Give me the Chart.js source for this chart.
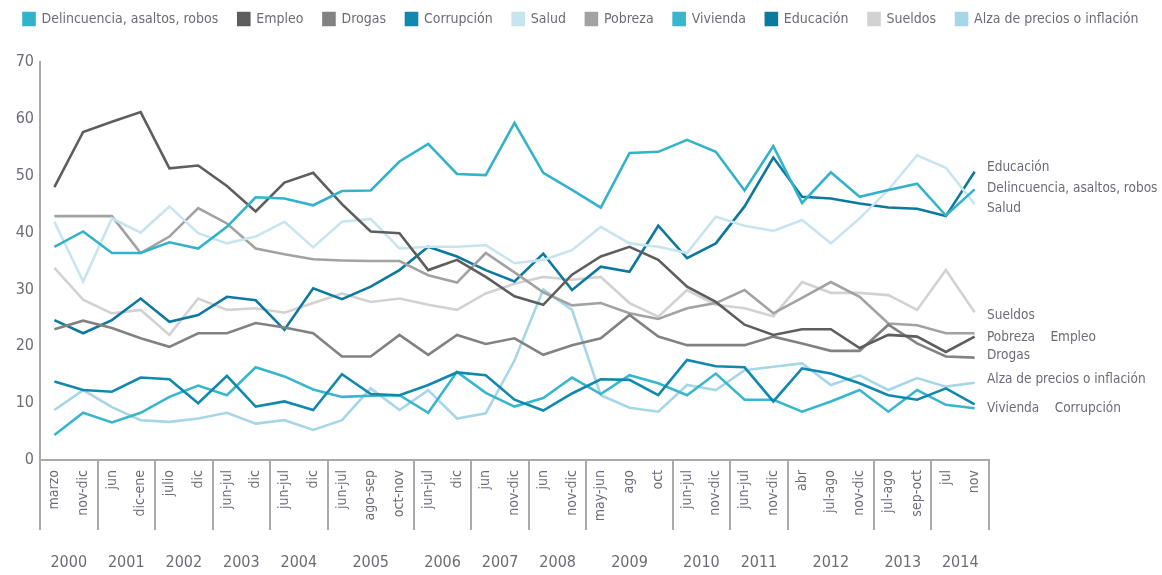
<!DOCTYPE html>
<html>
<head>
<meta charset="utf-8">
<script src="https://cdn.jsdelivr.net/npm/chart.js@4.4.1/dist/chart.umd.min.js"></script>
<style>
  html, body { margin: 0; padding: 0; background: #fff; }
  #wrap { width: 1162px; height: 575px; }
</style>
</head>
<body>
<div id="wrap"><canvas id="lineChart"></canvas></div>
<script>
// Periods (x categories), grouped by year
const periods = ['marzo', 'nov-dic', 'jun', 'dic-ene', 'julio', 'dic', 'jun-jul', 'dic', 'jun-jul', 'dic',
    'jun-jul', 'ago-sep', 'oct-nov', 'jun-jul', 'dic', 'jun', 'nov-dic', 'jun', 'nov-dic',
    'may-jun', 'ago', 'oct', 'jun-jul', 'nov-dic', 'jun-jul', 'nov-dic', 'abr', 'jul-ago', 'nov-dic',
    'jul-ago', 'sep-oct', 'jul', 'nov'];
const years = ['2000', '2001', '2002', '2003', '2004', '2005', '2006', '2007', '2008', '2009', '2010', '2011', '2012', '2013', '2014'];
const yearCounts = [2, 2, 2, 2, 2, 3, 2, 2, 2, 3, 2, 2, 3, 2, 2];
const yTicks = [0, 10, 20, 30, 40, 50, 60, 70];

// Series values (%)
const delincuencia = [37.5, 40.2, 36.4, 36.4, 38.3, 37.2, 41, 46.2, 46, 44.8, 47.3, 47.4, 52.5, 55.6, 50.3, 50.1, 59.3,
    50.5, 47.5, 44.4, 54, 54.2, 56.3, 54.2, 47.4, 55.2, 45.2, 50.6, 46.3, 47.5, 48.6, 43, 47.6];
const empleo = [48, 57.7, 59.5, 61.2, 51.3, 51.8, 48.2, 43.7, 48.8, 50.5, 45, 40.2, 39.9, 33.4, 35.2, 32.2, 28.8,
    27.3, 32.6, 35.8, 37.5, 35.2, 30.5, 27.8, 23.8, 22, 23, 23, 19.7, 22, 21.7, 19, 21.7];
const drogas = [23, 24.5, 23.2, 21.4, 19.9, 22.3, 22.3, 24.1, 23.3, 22.3, 18.2, 18.2, 22, 18.5, 22, 20.4, 21.4,
    18.5, 20.2, 21.4, 25.5, 21.7, 20.2, 20.2, 20.2, 21.7, 20.5, 19.2, 19.2, 23.8, 20.5, 18.2, 18];
const corrupcion = [13.8, 12.3, 12, 14.5, 14.2, 10, 14.8, 9.4, 10.3, 8.8, 15.1, 11.6, 11.4, 13.2, 15.4, 14.9, 10.6,
    8.7, 11.7, 14.2, 14.1, 11.4, 17.6, 16.5, 16.3, 10.3, 16.1, 15.2, 13.5, 11.4, 10.6, 12.6, 9.8];
const salud = [41.9, 31.4, 42.5, 40, 44.6, 39.9, 38.1, 39.3, 41.9, 37.4, 41.9, 42.4, 37.2, 37.5, 37.5, 37.8, 34.6,
    35.2, 36.9, 41, 38.1, 37.5, 36.4, 42.8, 41.2, 40.3, 42.2, 38.1, 42.5, 47.5, 53.6, 51.4, 45];
const pobreza = [42.9, 42.9, 42.9, 36.4, 39.3, 44.3, 41.6, 37.2, 36.2, 35.3, 35.1, 35, 35, 32.5, 31.2, 36.4, 33,
    29.5, 27.2, 27.6, 25.8, 24.8, 26.7, 27.6, 29.9, 25.8, 28.5, 31.3, 28.7, 24, 23.7, 22.3, 22.3];
const vivienda = [4.4, 8.3, 6.6, 8.3, 11.1, 13.1, 11.4, 16.3, 14.7, 12.4, 11.1, 11.3, 11.4, 8.3, 15.5, 11.8, 9.4,
    10.9, 14.5, 11.6, 14.9, 13.5, 11.4, 15.2, 10.6, 10.6, 8.5, 10.3, 12.3, 8.5, 12.3, 9.7, 9.1];
const educacion = [24.6, 22.3, 24.6, 28.4, 24.3, 25.5, 28.7, 28.1, 22.9, 30.2, 28.3, 30.5, 33.4, 37.5, 35.8, 33.4, 31.4,
    36.3, 29.9, 34, 33.1, 41.2, 35.5, 38.1, 44.6, 53.2, 46.3, 46, 45.1, 44.4, 44.2, 42.9, 50.7];
const sueldos = [33.8, 28.2, 25.8, 26.4, 22, 28.4, 26.4, 26.7, 25.9, 27.6, 29.3, 27.8, 28.4, 27.3, 26.4, 29.3, 31,
    32.2, 31.7, 32.2, 27.6, 25.2, 29.9, 27.3, 26.7, 25.3, 31.3, 29.4, 29.4, 29, 26.4, 33.4, 26];
const alza = [8.8, 12.3, 9.3, 7, 6.7, 7.3, 8.3, 6.4, 7, 5.3, 7, 12.6, 8.8, 12.3, 7.3, 8.2, 17.5,
    30, 26.4, 11.4, 9.2, 8.5, 13.2, 12.3, 15.8, 16.4, 17, 13.2, 14.9, 12.3, 14.4, 12.9, 13.6];

const FONT = "'Liberation Sans Narrow', 'DejaVu Sans Condensed', 'Arial Narrow', sans-serif";
const TEXT = '#6e6b78';

// first category index of every year
const yearStarts = [];
let acc = 0;
yearCounts.forEach(c => { yearStarts.push(acc); acc += c; });

const series = [
    { label: 'Delincuencia, asaltos, robos', data: delincuencia, color: '#33b2cb' },
    { label: 'Empleo', data: empleo, color: '#5e5e5e' },
    { label: 'Drogas', data: drogas, color: '#828282' },
    { label: 'Corrupción', data: corrupcion, color: '#1188ad' },
    { label: 'Salud', data: salud, color: '#c8e5ef' },
    { label: 'Pobreza', data: pobreza, color: '#a2a2a2' },
    { label: 'Vivienda', data: vivienda, color: '#38b6ce' },
    { label: 'Educación', data: educacion, color: '#0e799e' },
    { label: 'Sueldos', data: sueldos, color: '#d2d2d2' },
    { label: 'Alza de precios o inflación', data: alza, color: '#a7d6e6' }
];

// year labels under the axis
const yearLabels = {
    id: 'yearLabels',
    afterDraw(chart) {
        const ctx = chart.ctx;
        const x = chart.scales.x;
        ctx.save();
        ctx.font = '16px ' + FONT;
        ctx.fillStyle = TEXT;
        ctx.textAlign = 'center';
        ctx.textBaseline = 'middle';
        years.forEach((y, i) => {
            const a = x.getPixelForValue(yearStarts[i]);
            const b = x.getPixelForValue(yearStarts[i] + yearCounts[i] - 1);
            ctx.fillText(y, (a + b) / 2, x.top + 103);
        });
        ctx.restore();
    }
};

// series names at the right end of the lines
const endLabels = {
    id: 'endLabels',
    afterDraw(chart) {
        const ctx = chart.ctx;
        const yScale = chart.scales.y;
        const left = chart.chartArea.right - 2;
        const items = [
            ['Educación', 51.5], ['Delincuencia, asaltos, robos', 47.8], ['Salud', 44.3],
            ['Sueldos', 25.5], ['Pobreza    Empleo', 21.6], ['Drogas', 18.3],
            ['Alza de precios o inflación', 14.1], ['Vivienda    Corrupción', 9.1]
        ];
        ctx.save();
        ctx.font = '13.5px ' + FONT;
        ctx.fillStyle = TEXT;
        ctx.textAlign = 'left';
        ctx.textBaseline = 'middle';
        items.forEach(([t, v]) => ctx.fillText(t, left, yScale.getPixelForValue(v)));
        ctx.restore();
    }
};

// fixed legend block height so the plot starts where the original does
const legendHeight = {
    id: 'legendHeight',
    afterInit(chart) {
        const legend = chart.legend;
        const fit = legend.fit;
        legend.fit = function () {
            fit.call(this);
            this.height = 70;
        };
    }
};

Chart.defaults.font.family = FONT;

const createChart = () => {
    const ctx = document.getElementById('lineChart').getContext('2d');
    new Chart(ctx, {
        type: 'line',
        data: {
            labels: periods,
            datasets: series.map(s => ({
                label: s.label,
                data: s.data,
                borderColor: s.color,
                backgroundColor: s.color,
                borderWidth: 2.6,
                pointRadius: 0,
                tension: 0,
                fill: false
            }))
        },
        options: {
            responsive: true,
            maintainAspectRatio: false,
            animation: false,
            layout: { padding: { top: -8, right: 0, left: 0, bottom: 0 } },
            plugins: {
                legend: {
                    position: 'top',
                    labels: {
                        boxWidth: 11,
                        boxHeight: 12,
                        padding: 20,
                        color: TEXT,
                        font: { size: 14 }
                    }
                },
                tooltip: { enabled: false }
            },
            scales: {
                x: {
                    offset: true,
                    border: { display: true, color: '#aaaaaa', width: 2 },
                    grid: {
                        offset: true,
                        drawOnChartArea: false,
                        drawTicks: true,
                        tickLength: 70,
                        lineWidth: 2,
                        color: c => (c.index === undefined || yearStarts.includes(c.index)) ? '#aaaaaa' : 'rgba(0,0,0,0)'
                    },
                    ticks: {
                        autoSkip: false,
                        minRotation: 90,
                        maxRotation: 90,
                        padding: -60,
                        color: TEXT,
                        font: { size: 14 }
                    },
                    afterFit: s => { s.height = 115; }
                },
                y: {
                    min: 0,
                    max: 70,
                    border: { display: true, color: '#aaaaaa', width: 2 },
                    grid: { display: false, drawTicks: false },
                    ticks: {
                        stepSize: 10,
                        padding: 6,
                        color: TEXT,
                        font: { size: 16 },
                        callback: v => yTicks.includes(v) ? v : ''
                    },
                    afterFit: s => { s.width = 40; }
                },
                // empty right-hand strip that holds the series names
                labelSpace: {
                    position: 'right',
                    min: 0,
                    max: 70,
                    border: { display: false },
                    grid: { display: false, drawTicks: false },
                    ticks: { display: false },
                    afterFit: s => { s.width = 173; }
                }
            }
        },
        plugins: [yearLabels, endLabels, legendHeight]
    });
};

document.addEventListener('DOMContentLoaded', function () {
    createChart();
});
</script>
</body>
</html>
